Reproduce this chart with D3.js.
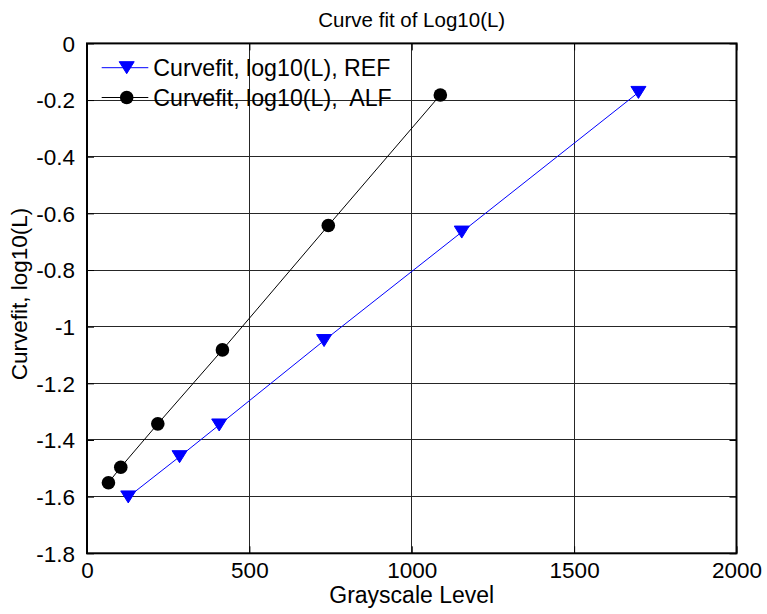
<!DOCTYPE html>
<html>
<head>
<meta charset="utf-8">
<script src="https://cdn.jsdelivr.net/npm/d3@7"></script>
<style>
  html, body { margin: 0; padding: 0; background: #fff; }
  svg { display: block; font-family: "Liberation Sans", Arial, sans-serif; }
</style>
</head>
<body>
<svg id="chart" width="767" height="614"></svg>
<script>
// ---- Data ----
const refX = [127, 285, 407, 730, 1154, 1698];
const refY = [-1.601, -1.459, -1.347, -1.049, -0.666, -0.173];
const alfX = [66, 104, 218, 417, 743, 1088];
const alfY = [-1.551, -1.496, -1.343, -1.082, -0.643, -0.182];
const seriesNames = ["Curvefit, log10(L), REF", "Curvefit, log10(L),  ALF"];
const xTicks = [0, 500, 1000, 1500, 2000];
const xTickLabels = ["0", "500", "1000", "1500", "2000"];
const yTicks = [0, -0.2, -0.4, -0.6, -0.8, -1, -1.2, -1.4, -1.6, -1.8];
const yTickLabels = ["0", "-0.2", "-0.4", "-0.6", "-0.8", "-1", "-1.2", "-1.4", "-1.6", "-1.8"];
const titleText = "Curve fit of Log10(L)";
const xLabelText = "Grayscale Level";
const yLabelText = "Curvefit, log10(L)";

// ---- Layout ----
const L = 87, R = 736.5, T = 43.4, B = 553.3;
const svg = d3.select("#chart");
const x = d3.scaleLinear().domain([0, 2000]).range([L, R]);
const y = d3.scaleLinear().domain([-1.8, 0]).range([B, T]);

// grid
const grid = svg.append("g");
grid.selectAll("line.gx").data(xTicks.slice(1, -1)).join("line")
  .attr("x1", d => x(d)).attr("x2", d => x(d)).attr("y1", T).attr("y2", B)
  .attr("stroke", "#262626").attr("stroke-width", 1).attr("shape-rendering", "crispEdges");
grid.selectAll("line.gy").data(yTicks.slice(1, -1)).join("line")
  .attr("y1", d => y(d)).attr("y2", d => y(d)).attr("x1", L).attr("x2", R)
  .attr("stroke", "#262626").attr("stroke-width", 1).attr("shape-rendering", "crispEdges");

// axes (tick labels only, ticks inward)
const xAxis = d3.axisBottom(x).tickValues(xTicks).tickFormat((d, i) => xTickLabels[i]).tickSizeInner(-7).tickSizeOuter(0).tickPadding(17);
const yAxis = d3.axisLeft(y).tickValues(yTicks).tickFormat((d, i) => yTickLabels[i]).tickSizeInner(-7).tickSizeOuter(0).tickPadding(12);
const gx = svg.append("g").attr("transform", `translate(0,${B})`).call(xAxis);
const gy = svg.append("g").attr("transform", `translate(${L},0)`).call(yAxis);
// top / right ticks
const gxt = svg.append("g").attr("transform", `translate(0,${T})`).call(d3.axisTop(x).tickValues(xTicks).tickFormat("").tickSizeInner(-7).tickSizeOuter(0));
const gyr = svg.append("g").attr("transform", `translate(${R},0)`).call(d3.axisRight(y).tickValues(yTicks).tickFormat("").tickSizeInner(-7).tickSizeOuter(0));
[gx, gy, gxt, gyr].forEach(g => {
  g.select(".domain").remove();
  g.selectAll(".tick line").attr("stroke", "#000").attr("stroke-width", 1);
  g.selectAll("text").attr("fill", "#000").attr("font-size", 22.5).attr("font-family", "Liberation Sans, Arial, sans-serif");
});
gx.selectAll("text").attr("dy", "0.71em").attr("y", 9);
gy.selectAll("text").attr("dy", "0.35em");

// box
svg.append("rect").attr("x", L).attr("y", T).attr("width", R - L).attr("height", B - T)
  .attr("fill", "none").attr("stroke", "#000").attr("stroke-width", 2);

// series
const refData = refX.map((v, i) => [v, refY[i]]);
const alfData = alfX.map((v, i) => [v, alfY[i]]);
const line = d3.line().x(d => x(d[0])).y(d => y(d[1]));
svg.append("path").datum(refData).attr("d", line).attr("fill", "none").attr("stroke", "#0000ff").attr("stroke-width", 1);
svg.append("path").datum(alfData).attr("d", line).attr("fill", "none").attr("stroke", "#000").attr("stroke-width", 1);

const tri = "M-7.5,-6 L7.5,-6 L0,6 Z";
svg.selectAll("path.tri").data(refData).join("path").attr("class", "tri")
  .attr("d", tri).attr("transform", d => `translate(${x(d[0])},${y(d[1])})`)
  .attr("fill", "#0000ff").attr("stroke", "#0000ff").attr("stroke-width", 1);
svg.selectAll("circle.dot").data(alfData).join("circle").attr("class", "dot")
  .attr("cx", d => x(d[0])).attr("cy", d => y(d[1])).attr("r", 6.8).attr("fill", "#000");

// legend
const legY = [67.7, 97.5];
const legColors = ["#0000ff", "#000"];
seriesNames.forEach((name, i) => {
  const g = svg.append("g");
  g.append("line").attr("x1", 101.7).attr("x2", 148.3).attr("y1", legY[i]).attr("y2", legY[i])
    .attr("stroke", legColors[i]).attr("stroke-width", 1);
  if (i === 0) {
    g.append("path").attr("d", tri).attr("transform", `translate(126.7,${legY[i]})`).attr("fill", "#0000ff").attr("stroke", "#0000ff");
  } else {
    g.append("circle").attr("cx", 126.7).attr("cy", legY[i]).attr("r", 6.8).attr("fill", "#000");
  }
  g.append("text").attr("x", 153.3).attr("y", legY[i]).attr("dy", "0.35em")
    .attr("font-size", 23.2).attr("fill", "#000").style("white-space", "pre").text(name);
});

// title and labels
svg.append("text").attr("x", (L + R) / 2).attr("y", 27.3).attr("text-anchor", "middle")
  .attr("font-size", 20.5).attr("fill", "#000").text(titleText);
svg.append("text").attr("x", (L + R) / 2).attr("y", 603).attr("text-anchor", "middle")
  .attr("font-size", 23).attr("fill", "#000").text(xLabelText);
svg.append("text").attr("transform", "translate(27,294) rotate(-90)").attr("text-anchor", "middle")
  .attr("font-size", 22.5).attr("fill", "#000").text(yLabelText);
</script>
</body>
</html>
